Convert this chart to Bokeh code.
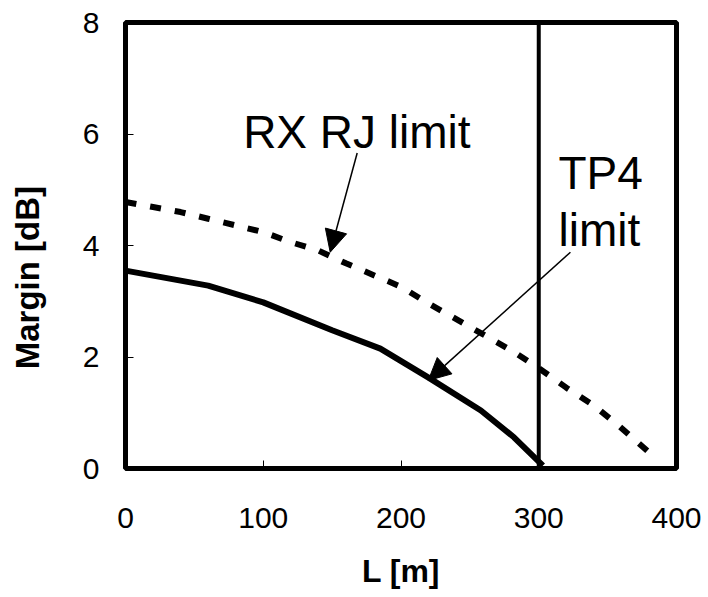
from bokeh.plotting import figure
from bokeh.models import Range1d, FixedTicker, Label, Arrow, NormalHead, Span
from bokeh.embed import file_html
from bokeh.resources import INLINE

# ---- data ----
tp4_L = [0, 60, 100, 150, 185, 220, 258, 282, 303]
tp4_margin = [3.55, 3.28, 2.98, 2.48, 2.15, 1.63, 1.04, 0.56, 0.05]

rxrj_L = [0, 20, 40, 60, 80, 100, 120, 140, 160, 200, 220, 280, 300, 320, 340, 358, 382]
rxrj_margin = [4.78, 4.69, 4.60, 4.48, 4.36, 4.24, 4.06, 3.91, 3.68, 3.26, 2.96, 2.12,
               1.80, 1.45, 1.13, 0.77, 0.25]

length_limit = 300
x_ticks = [0, 100, 200, 300, 400]
y_ticks = [0, 2, 4, 6, 8]

# annotation arrows: (x_start, y_start, x_end, y_end)
arrow_rxrj = [168.2, 5.66, 148.6, 3.88]
arrow_tp4 = [323.0, 3.88, 219.8, 1.58]

FONT = "Liberation Sans"
NBSP = "\u00a0"

p = figure(frame_width=551, frame_height=446, min_border_left=125, min_border_top=22,
           min_border_right=32, min_border_bottom=129,
           x_range=Range1d(0, 400), y_range=Range1d(0, 8),
           output_backend="svg", toolbar_location=None)

p.background_fill_color = "white"
p.border_fill_color = "white"
p.outline_line_color = "black"
p.outline_line_width = 5
p.xgrid.visible = False
p.ygrid.visible = False

for ax, ticks, standoff in ((p.xaxis, x_ticks, 39), (p.yaxis, y_ticks, 26)):
    ax.ticker = FixedTicker(ticks=ticks)
    ax.axis_line_color = None
    ax.major_tick_in = 8
    ax.major_tick_out = 0
    ax.major_tick_line_color = "black"
    ax.major_tick_line_width = 1
    ax.minor_tick_line_color = None
    ax.major_label_text_font = FONT
    ax.major_label_text_font_size = "30px"
    ax.major_label_text_color = "black"
    ax.major_label_standoff = standoff
    ax.axis_label_text_font = FONT
    ax.axis_label_text_font_style = "bold"
    ax.axis_label_text_color = "black"

p.xaxis.axis_label = "L [m]"
p.xaxis.axis_label_text_font_size = "32px"
p.xaxis.axis_label_standoff = 22
p.yaxis.axis_label = "Margin [dB]" + NBSP * 7
p.yaxis.axis_label_text_font_size = "33px"
p.yaxis.axis_label_standoff = 34

# data lines
p.line(rxrj_L, rxrj_margin, line_color="black", line_width=6, line_dash="11 14")
p.line(tp4_L, tp4_margin, line_color="black", line_width=6)
p.add_layout(Span(location=length_limit, dimension="height", line_color="black", line_width=4))

# arrows
for a in (arrow_rxrj, arrow_tp4):
    p.add_layout(Arrow(end=NormalHead(size=22, fill_color="black", line_color="black"),
                       x_start=a[0], y_start=a[1], x_end=a[2], y_end=a[3],
                       line_color="black", line_width=1.5))

# annotation texts
for txt, x, y in (("RX RJ limit", 85.4, 6.03), ("TP4", 314.3, 5.30), ("limit", 314.3, 4.27)):
    p.add_layout(Label(x=x, y=y, text=txt, text_font=FONT, text_font_size="46px",
                       text_color="black", text_baseline="alphabetic"))

open("out.html", "w").write(file_html(p, INLINE))
